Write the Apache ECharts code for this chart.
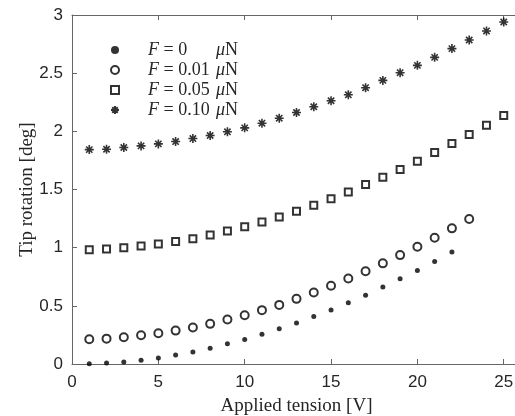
<!DOCTYPE html>
<html>
<head>
<meta charset="utf-8">
<script src="https://cdn.jsdelivr.net/npm/echarts@6/dist/echarts.min.js"></script>
<style>html,body{margin:0;padding:0;background:#fff;}#c{width:515px;height:416px;}</style>
</head>
<body>
<div id="c"></div>
<script>
const forceLabels = ['0', '0.01', '0.05', '0.10'];
const tension = [1,2,3,4,5,6,7,8,9,10,11,12,13,14,15,16,17,18,19,20,21,22,23,24,25];
const rotF0 = [0.003,0.009,0.017,0.032,0.052,0.078,0.104,0.135,0.173,0.210,0.256,0.302,0.353,0.408,0.465,0.526,0.592,0.661,0.733,0.804,0.882,0.962];
const rotF001 = [0.213,0.218,0.230,0.247,0.264,0.287,0.313,0.345,0.382,0.419,0.463,0.508,0.560,0.615,0.672,0.735,0.798,0.865,0.936,1.008,1.085,1.166,1.246];
const rotF005 = [0.982,0.988,0.999,1.014,1.031,1.054,1.077,1.109,1.143,1.180,1.220,1.264,1.312,1.364,1.421,1.479,1.542,1.605,1.671,1.743,1.818,1.895,1.973,2.053,2.136];
const rotF010 = [1.843,1.846,1.861,1.875,1.892,1.912,1.938,1.964,1.996,2.030,2.070,2.113,2.162,2.211,2.263,2.314,2.375,2.438,2.504,2.567,2.636,2.711,2.785,2.863,2.940];
const xTicks = [0,5,10,15,20,25];
const yTicks = [0,0.5,1,1.5,2,2.5,3];

const pair = (vals) => vals.map((v, i) => [tension[i], v]);
const names = forceLabels.map(f => 'F = ' + f + ' μN');
const asterisk = 'path://M0,-10L0,10M-10,0L10,0M-7,-7L7,7M-7,7L7,-7';

const chart = echarts.init(document.getElementById('c'), null, {renderer: 'canvas'});
const axisCol = '#666';
const txtCol = '#262626';
const serif = 'Liberation Serif';
const sans = 'Liberation Sans';

chart.setOption({
  animation: false,
  backgroundColor: '#fff',
  grid: {left: 72, top: 15, bottom: 52, right: -6, containLabel: false, outerBoundsMode: 'none'},
  legend: {
    orient: 'vertical', left: 105, top: 36,
    itemWidth: 8, itemHeight: 8, itemGap: 2,
    data: names,
    textStyle: {
      fontFamily: serif, fontSize: 18, color: txtCol, lineHeight: 18,
      rich: {
        sp: {width: 24},
        it: {fontFamily: serif, fontStyle: 'italic', fontSize: 18, color: txtCol},
        v: {fontFamily: serif, fontSize: 18, color: txtCol, width: 57},
        n: {fontFamily: serif, fontSize: 18, color: txtCol}
      }
    },
    formatter: function (name) {
      const f = forceLabels[names.indexOf(name)];
      return '{sp|}{it|F}{v| = ' + f + '}{it|μ}{n|N}';
    }
  },
  xAxis: [{
    type: 'value', min: 0, max: 26, interval: 5, position: 'bottom',
    name: 'Applied tension [V]', nameLocation: 'middle', nameGap: 33, nameMoveOverlap: false,
    nameTextStyle: {fontFamily: serif, fontSize: 19, color: txtCol},
    axisLine: {show: true, onZero: false, lineStyle: {color: axisCol, width: 1}},
    axisTick: {show: true, inside: true, length: 5, lineStyle: {color: axisCol}},
    axisLabel: {fontFamily: sans, fontSize: 17, color: txtCol, margin: 10,
      formatter: v => (xTicks.indexOf(v) >= 0 ? String(v) : '')},
    splitLine: {show: false}
  }, {
    type: 'value', min: 0, max: 26, interval: 5, position: 'top',
    axisLine: {show: true, onZero: false, lineStyle: {color: axisCol, width: 1}},
    axisTick: {show: true, inside: true, length: 5, lineStyle: {color: axisCol}},
    axisLabel: {show: false},
    splitLine: {show: false}
  }],
  yAxis: {
    type: 'value', min: 0, max: 3, interval: 0.5,
    name: 'Tip rotation [deg]', nameLocation: 'middle', nameGap: 35, nameMoveOverlap: false,
    nameTextStyle: {fontFamily: serif, fontSize: 19, color: txtCol},
    axisLine: {show: true, onZero: false, lineStyle: {color: axisCol, width: 1}},
    axisTick: {show: true, inside: true, length: 5, lineStyle: {color: axisCol}},
    axisLabel: {fontFamily: sans, fontSize: 17, color: txtCol, margin: 9,
      formatter: v => (yTicks.indexOf(v) >= 0 ? String(v) : '')},
    splitLine: {show: false}
  },
  series: [
    {name: names[0], type: 'scatter', data: pair(rotF0), symbol: 'circle', symbolSize: 5,
     itemStyle: {color: '#000'}},
    {name: names[1], type: 'scatter', data: pair(rotF001), symbol: 'emptyCircle', symbolSize: 8,
     itemStyle: {color: '#000', borderWidth: 1.2}},
    {name: names[2], type: 'scatter', data: pair(rotF005), symbol: 'emptyRect', symbolSize: 7,
     itemStyle: {color: '#000', borderWidth: 1.2}},
    {name: names[3], type: 'scatter', data: pair(rotF010), symbol: asterisk, symbolSize: 9,
     itemStyle: {color: 'transparent', borderColor: '#000', borderWidth: 1.6}}
  ]
});
</script>
</body>
</html>
